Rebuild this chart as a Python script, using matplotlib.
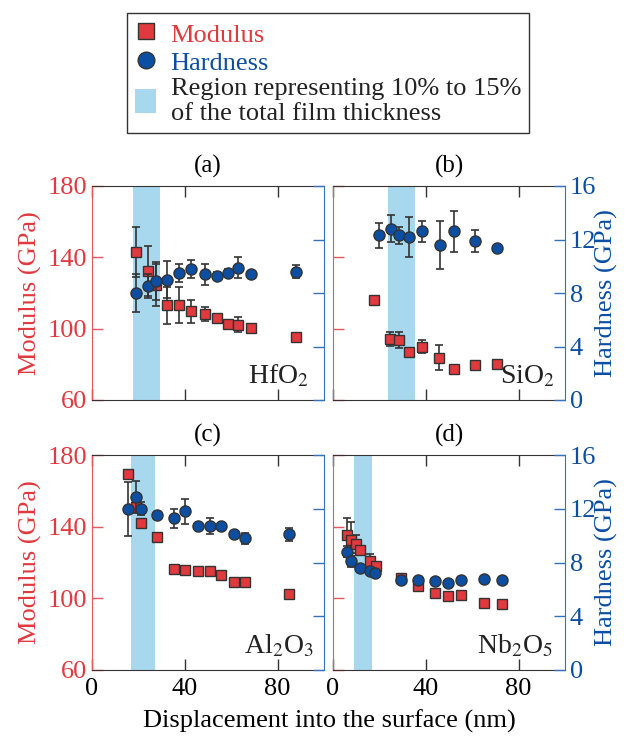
import matplotlib
matplotlib.use("Agg")
from matplotlib import pyplot as plt
from matplotlib.lines import Line2D
from matplotlib.patches import Patch

plt.rcParams['font.family'] = ['Liberation Serif', 'DejaVu Serif']
plt.rcParams['mathtext.fontset'] = 'stix'
plt.rcParams['font.size'] = 18

RED = '#e0393e'
BLUE = '#0b4ea2'
RED_SPINE = '#e8585e'
BLUE_SPINE = '#3572bd'
SHADE = '#a8d8ee'
GREY = '#333333'

# (a) HfO2
hfo2_x = [19.1, 24.1, 27.7, 32.2, 37.3, 42.8, 48.8, 53.9, 58.8, 62.9, 68.6, 88.0]
hfo2_mod = [142.8, 132.5, 124.5, 113.0, 113.4, 109.8, 108.3, 105.8, 102.8, 102.3, 100.4, 95.5]
hfo2_mod_err = [14, 14, 12, 10.5, 10, 6.5, 4, 2, 2, 4, 2, 0]
hfo2_hard = [8.0, 8.5, 8.9, 9.0, 9.5, 9.8, 9.4, 9.3, 9.5, 9.9, 9.4, 9.6]
hfo2_hard_err = [1.4, 0.9, 1.4, 1.4, 0.7, 0.7, 0.8, 0.3, 0.3, 0.8, 0, 0.5]
hfo2_region = (17.5, 29.5)

# (b) SiO2
sio2_mod_x = [17.6, 24.6, 28.3, 32.8, 38.3, 45.8, 52.2, 61.4, 70.5]
sio2_mod = [116.3, 94.2, 93.8, 86.7, 89.9, 83.6, 77.4, 79.6, 80.0]
sio2_mod_err = [1.5, 3.7, 4.5, 1.5, 3.7, 7, 1.5, 0, 0]
sio2_hard_x = [19.9, 24.9, 28.5, 32.8, 38.3, 46.0, 52.0, 61.4, 70.5]
sio2_hard = [12.3, 12.8, 12.3, 12.2, 12.6, 11.6, 12.6, 11.9, 11.4]
sio2_hard_err = [0.9, 1.0, 0.6, 1.5, 0.8, 1.8, 1.5, 0.8, 0.2]
sio2_region = (23.6, 35.4)

# (c) Al2O3
al2o3_x = [15.5, 19.1, 21.2, 28.2, 35.3, 40.0, 45.5, 50.9, 55.5, 61.1, 65.9, 85.0]
al2o3_mod = [169.2, 150.8, 142.3, 134.3, 116.2, 115.8, 115.3, 115.3, 113.2, 109.2, 109.1, 102.6]
al2o3_mod_err = [0, 0, 0, 0, 0, 0, 0, 0, 0, 0, 0, 0]
al2o3_hard = [12.0, 12.9, 12.0, 11.5, 11.3, 11.8, 10.7, 10.7, 10.7, 10.1, 9.8, 10.1]
al2o3_hard_err = [2.0, 1.2, 0.5, 0, 0.7, 0.9, 0, 0.6, 0, 0, 0.4, 0.5]
al2o3_region = (16.6, 27.3)

# (d) Nb2O5
nb2o5_mod_x = [6.1, 7.9, 9.8, 11.8, 16.0, 18.5, 29.2, 36.8, 43.8, 49.7, 55.1, 64.9, 73.0]
nb2o5_mod = [135.3, 132.5, 130.2, 126.8, 120.6, 117.9, 111.3, 107.0, 102.8, 101.3, 101.9, 97.4, 96.6]
nb2o5_mod_err = [9.5, 10, 5, 2, 4, 0, 0, 0, 0, 0, 0, 0, 0]
nb2o5_hard_x = [6.1, 7.9, 11.6, 16.0, 18.2, 29.2, 36.8, 44.1, 49.7, 55.3, 64.9, 73.0]
nb2o5_hard = [8.8, 8.1, 7.6, 7.4, 7.2, 6.7, 6.7, 6.6, 6.5, 6.7, 6.8, 6.7]
nb2o5_hard_err = [0.4, 0.4, 0.2, 0.2, 0, 0, 0, 0, 0, 0, 0, 0]
nb2o5_region = (9.1, 16.9)

panels = [
    ("(a)", "HfO$_2$", hfo2_x, hfo2_mod, hfo2_mod_err, hfo2_x, hfo2_hard, hfo2_hard_err, hfo2_region),
    ("(b)", "SiO$_2$", sio2_mod_x, sio2_mod, sio2_mod_err, sio2_hard_x, sio2_hard, sio2_hard_err, sio2_region),
    ("(c)", "Al$_2$O$_3$", al2o3_x, al2o3_mod, al2o3_mod_err, al2o3_x, al2o3_hard, al2o3_hard_err, al2o3_region),
    ("(d)", "Nb$_2$O$_5$", nb2o5_mod_x, nb2o5_mod, nb2o5_mod_err, nb2o5_hard_x, nb2o5_hard, nb2o5_hard_err, nb2o5_region),
]

W, H = 634, 743
fig = plt.figure(figsize=(W / 100, H / 100), dpi=100)

# axes boxes in pixels: left, top, right, bottom
boxes = [(92, 186, 324, 400), (333, 186, 565, 400),
         (92, 455, 324, 670), (333, 455, 565, 670)]
# right edge of the material name, in axes fraction
name_x = [0.935, 0.955, 0.955, 0.95]

for i, (p, box) in enumerate(zip(panels, boxes)):
    title, name, mx, my, merr, hx, hy, herr, region = p
    l, t, r, b = box
    ax = fig.add_axes([l / W, 1 - b / H, (r - l) / W, (b - t) / H])
    ax2 = ax.twinx()

    ax.axvspan(region[0], region[1], color=SHADE, lw=0, zorder=0)

    ax.errorbar(mx, my, yerr=merr, fmt='none', ecolor=GREY, elinewidth=1.2,
                capsize=3, capthick=1.2, zorder=2)
    ax.plot(mx, my, 's', color=RED, mec=GREY, mew=1.0, ms=7.2, zorder=3)
    ax2.errorbar(hx, hy, yerr=herr, fmt='none', ecolor=GREY, elinewidth=1.2,
                 capsize=3, capthick=1.2, zorder=2)
    ax2.plot(hx, hy, 'o', color=BLUE, mec=GREY, mew=1.0, ms=8, zorder=3)

    ax.set_xlim(0, 100)
    ax.set_ylim(60, 180)
    ax2.set_ylim(0, 16)
    ax.set_xticks([0, 40, 80])
    ax.set_yticks([60, 100, 140, 180])
    ax2.set_yticks([0, 4, 8, 12, 16])

    ax.tick_params(axis='x', direction='in', top=True, length=8, width=1,
                   color=GREY, labelsize=19, pad=6)
    ax.tick_params(axis='y', direction='in', length=8, width=1,
                   color=RED_SPINE, labelcolor=RED, labelsize=19)
    ax2.tick_params(axis='y', direction='in', length=8, width=1,
                    color=BLUE_SPINE, labelcolor=BLUE, labelsize=19)

    for s in ['top', 'bottom']:
        ax.spines[s].set_color(GREY)
        ax2.spines[s].set_visible(False)
    ax.spines['left'].set_color(RED_SPINE)
    ax.spines['right'].set_visible(False)
    ax2.spines['left'].set_visible(False)
    ax2.spines['right'].set_color(BLUE_SPINE)

    if i % 2 == 1:
        ax.tick_params(axis='y', labelleft=False)
    else:
        ax2.tick_params(axis='y', labelright=False)
    if i < 2:
        ax.tick_params(axis='x', labelbottom=False)

    ax.set_title(title, fontsize=18, pad=10)
    ax.text(name_x[i], 0.05, name, transform=ax.transAxes, ha='right', va='bottom',
            fontsize=20, color='#222222', zorder=5)

# row labels
for yc in [(186 + 400) / 2, (455 + 670) / 2]:
    fig.text(30 / W, 1 - yc / H, "Modulus (GPa)", color=RED, rotation=90,
             ha='center', va='center', fontsize=19)
    fig.text(606 / W, 1 - yc / H, "Hardness (GPa)", color=BLUE, rotation=90,
             ha='center', va='center', fontsize=19)

fig.text(329 / W, 1 - 721 / H, "Displacement into the surface (nm)",
         ha='center', va='center', fontsize=19)

handles = [
    Line2D([], [], marker='s', ls='none', color=RED, mec=GREY, mew=1.0, ms=11),
    Line2D([], [], marker='o', ls='none', color=BLUE, mec=GREY, mew=1.0, ms=12),
    Patch(facecolor=SHADE, edgecolor='none'),
]
labels = ["Modulus", "Hardness",
          "Region representing 10% to 15%\nof the total film thickness"]
leg = fig.legend(handles, labels, loc='upper center', bbox_to_anchor=(328 / W, 1 - 13 / H),
                 fontsize=19, frameon=True, fancybox=False, edgecolor='black',
                 handlelength=0.8, handleheight=1.0, handletextpad=0.55,
                 labelspacing=0.1, borderpad=0.3, borderaxespad=0)
leg.get_frame().set_linewidth(1.0)
for txt, c in zip(leg.get_texts(), [RED, BLUE, '#222222']):
    txt.set_color(c)

fig.savefig("out.png", dpi=100)
